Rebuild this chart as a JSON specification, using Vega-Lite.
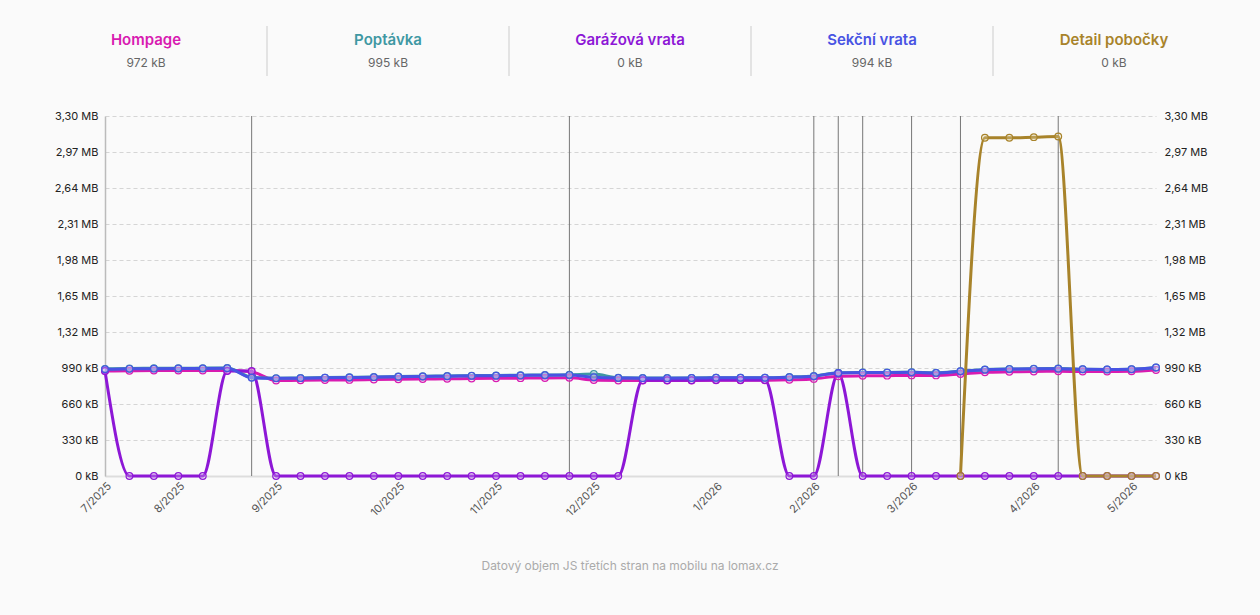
{
  "$schema": "https://vega.github.io/schema/vega-lite/v6.json",
  "background": "#fafafa",
  "padding": {"left": 24, "right": 52, "top": 25, "bottom": 45},
  "config": {"view": {"stroke": null}, "font": "Inter"},
  "title": {"text": "Datový objem JS třetích stran na mobilu na lomax.cz", "orient": "bottom", "anchor": "middle", "color": "#aaaaaa", "fontSize": 12, "fontWeight": "normal", "offset": 43, "dx": 14},
  "spacing": 33,
  "datasets": {
    "header": [
      {"series": "Hompage", "last": "972 kB"},
      {"series": "Poptávka", "last": "995 kB"},
      {"series": "Garážová vrata", "last": "0 kB"},
      {"series": "Sekční vrata", "last": "994 kB"},
      {"series": "Detail pobočky", "last": "0 kB"}
    ],
    "notes": [
      {"date": "2025-08-25"}, {"date": "2025-11-24"}, {"date": "2026-02-02"}, {"date": "2026-02-09"},
      {"date": "2026-02-16"}, {"date": "2026-03-02"}, {"date": "2026-03-16"}, {"date": "2026-04-13"}
    ],
    "main": [
      {"date": "2025-07-14", "series": "Hompage", "kB": 962},
      {"date": "2025-07-21", "series": "Hompage", "kB": 965},
      {"date": "2025-07-28", "series": "Hompage", "kB": 966},
      {"date": "2025-08-04", "series": "Hompage", "kB": 966},
      {"date": "2025-08-11", "series": "Hompage", "kB": 966},
      {"date": "2025-08-18", "series": "Hompage", "kB": 966},
      {"date": "2025-08-25", "series": "Hompage", "kB": 955},
      {"date": "2025-09-01", "series": "Hompage", "kB": 875},
      {"date": "2025-09-08", "series": "Hompage", "kB": 877},
      {"date": "2025-09-15", "series": "Hompage", "kB": 879},
      {"date": "2025-09-22", "series": "Hompage", "kB": 881},
      {"date": "2025-09-29", "series": "Hompage", "kB": 884},
      {"date": "2025-10-06", "series": "Hompage", "kB": 887},
      {"date": "2025-10-13", "series": "Hompage", "kB": 889},
      {"date": "2025-10-20", "series": "Hompage", "kB": 891},
      {"date": "2025-10-27", "series": "Hompage", "kB": 893},
      {"date": "2025-11-03", "series": "Hompage", "kB": 895},
      {"date": "2025-11-10", "series": "Hompage", "kB": 897},
      {"date": "2025-11-17", "series": "Hompage", "kB": 899},
      {"date": "2025-11-24", "series": "Hompage", "kB": 900},
      {"date": "2025-12-01", "series": "Hompage", "kB": 880},
      {"date": "2025-12-08", "series": "Hompage", "kB": 876},
      {"date": "2025-12-15", "series": "Hompage", "kB": 875},
      {"date": "2025-12-22", "series": "Hompage", "kB": 875},
      {"date": "2025-12-29", "series": "Hompage", "kB": 876},
      {"date": "2026-01-05", "series": "Hompage", "kB": 877},
      {"date": "2026-01-12", "series": "Hompage", "kB": 877},
      {"date": "2026-01-19", "series": "Hompage", "kB": 878},
      {"date": "2026-01-26", "series": "Hompage", "kB": 882},
      {"date": "2026-02-02", "series": "Hompage", "kB": 890},
      {"date": "2026-02-09", "series": "Hompage", "kB": 915},
      {"date": "2026-02-16", "series": "Hompage", "kB": 918},
      {"date": "2026-02-23", "series": "Hompage", "kB": 920},
      {"date": "2026-03-02", "series": "Hompage", "kB": 922},
      {"date": "2026-03-09", "series": "Hompage", "kB": 922},
      {"date": "2026-03-16", "series": "Hompage", "kB": 935},
      {"date": "2026-03-23", "series": "Hompage", "kB": 950},
      {"date": "2026-03-30", "series": "Hompage", "kB": 955},
      {"date": "2026-04-06", "series": "Hompage", "kB": 958},
      {"date": "2026-04-13", "series": "Hompage", "kB": 960},
      {"date": "2026-04-20", "series": "Hompage", "kB": 958},
      {"date": "2026-04-27", "series": "Hompage", "kB": 958},
      {"date": "2026-05-04", "series": "Hompage", "kB": 960},
      {"date": "2026-05-11", "series": "Hompage", "kB": 972},

      {"date": "2025-07-14", "series": "Poptávka", "kB": 982},
      {"date": "2025-07-21", "series": "Poptávka", "kB": 986},
      {"date": "2025-07-28", "series": "Poptávka", "kB": 988},
      {"date": "2025-08-04", "series": "Poptávka", "kB": 988},
      {"date": "2025-08-11", "series": "Poptávka", "kB": 989},
      {"date": "2025-08-18", "series": "Poptávka", "kB": 990},
      {"date": "2025-08-25", "series": "Poptávka", "kB": 905},
      {"date": "2025-09-01", "series": "Poptávka", "kB": 897},
      {"date": "2025-09-08", "series": "Poptávka", "kB": 899},
      {"date": "2025-09-15", "series": "Poptávka", "kB": 902},
      {"date": "2025-09-22", "series": "Poptávka", "kB": 905},
      {"date": "2025-09-29", "series": "Poptávka", "kB": 908},
      {"date": "2025-10-06", "series": "Poptávka", "kB": 912},
      {"date": "2025-10-13", "series": "Poptávka", "kB": 914},
      {"date": "2025-10-20", "series": "Poptávka", "kB": 917},
      {"date": "2025-10-27", "series": "Poptávka", "kB": 920},
      {"date": "2025-11-03", "series": "Poptávka", "kB": 922},
      {"date": "2025-11-10", "series": "Poptávka", "kB": 924},
      {"date": "2025-11-17", "series": "Poptávka", "kB": 926},
      {"date": "2025-11-24", "series": "Poptávka", "kB": 928},
      {"date": "2025-12-01", "series": "Poptávka", "kB": 935},
      {"date": "2025-12-08", "series": "Poptávka", "kB": 900},
      {"date": "2025-12-15", "series": "Poptávka", "kB": 898},
      {"date": "2025-12-22", "series": "Poptávka", "kB": 898},
      {"date": "2025-12-29", "series": "Poptávka", "kB": 899},
      {"date": "2026-01-05", "series": "Poptávka", "kB": 901},
      {"date": "2026-01-12", "series": "Poptávka", "kB": 901},
      {"date": "2026-01-19", "series": "Poptávka", "kB": 901},
      {"date": "2026-01-26", "series": "Poptávka", "kB": 907},
      {"date": "2026-02-02", "series": "Poptávka", "kB": 917},
      {"date": "2026-02-09", "series": "Poptávka", "kB": 946},
      {"date": "2026-02-16", "series": "Poptávka", "kB": 949},
      {"date": "2026-02-23", "series": "Poptávka", "kB": 949},
      {"date": "2026-03-02", "series": "Poptávka", "kB": 951},
      {"date": "2026-03-09", "series": "Poptávka", "kB": 947},
      {"date": "2026-03-16", "series": "Poptávka", "kB": 961},
      {"date": "2026-03-23", "series": "Poptávka", "kB": 976},
      {"date": "2026-03-30", "series": "Poptávka", "kB": 981},
      {"date": "2026-04-06", "series": "Poptávka", "kB": 983},
      {"date": "2026-04-13", "series": "Poptávka", "kB": 985},
      {"date": "2026-04-20", "series": "Poptávka", "kB": 979},
      {"date": "2026-04-27", "series": "Poptávka", "kB": 977},
      {"date": "2026-05-04", "series": "Poptávka", "kB": 979},
      {"date": "2026-05-11", "series": "Poptávka", "kB": 995},

      {"date": "2025-07-14", "series": "Garážová vrata", "kB": 962},
      {"date": "2025-07-21", "series": "Garážová vrata", "kB": 0},
      {"date": "2025-07-28", "series": "Garážová vrata", "kB": 0},
      {"date": "2025-08-04", "series": "Garážová vrata", "kB": 0},
      {"date": "2025-08-11", "series": "Garážová vrata", "kB": 0},
      {"date": "2025-08-18", "series": "Garážová vrata", "kB": 962},
      {"date": "2025-08-25", "series": "Garážová vrata", "kB": 962},
      {"date": "2025-09-01", "series": "Garážová vrata", "kB": 0},
      {"date": "2025-09-08", "series": "Garážová vrata", "kB": 0},
      {"date": "2025-09-15", "series": "Garážová vrata", "kB": 0},
      {"date": "2025-09-22", "series": "Garážová vrata", "kB": 0},
      {"date": "2025-09-29", "series": "Garážová vrata", "kB": 0},
      {"date": "2025-10-06", "series": "Garážová vrata", "kB": 0},
      {"date": "2025-10-13", "series": "Garážová vrata", "kB": 0},
      {"date": "2025-10-20", "series": "Garážová vrata", "kB": 0},
      {"date": "2025-10-27", "series": "Garážová vrata", "kB": 0},
      {"date": "2025-11-03", "series": "Garážová vrata", "kB": 0},
      {"date": "2025-11-10", "series": "Garážová vrata", "kB": 0},
      {"date": "2025-11-17", "series": "Garážová vrata", "kB": 0},
      {"date": "2025-11-24", "series": "Garážová vrata", "kB": 0},
      {"date": "2025-12-01", "series": "Garážová vrata", "kB": 0},
      {"date": "2025-12-08", "series": "Garážová vrata", "kB": 0},
      {"date": "2025-12-15", "series": "Garážová vrata", "kB": 878},
      {"date": "2025-12-22", "series": "Garážová vrata", "kB": 878},
      {"date": "2025-12-29", "series": "Garážová vrata", "kB": 878},
      {"date": "2026-01-05", "series": "Garážová vrata", "kB": 879},
      {"date": "2026-01-12", "series": "Garážová vrata", "kB": 880},
      {"date": "2026-01-19", "series": "Garážová vrata", "kB": 880},
      {"date": "2026-01-26", "series": "Garážová vrata", "kB": 0},
      {"date": "2026-02-02", "series": "Garážová vrata", "kB": 0},
      {"date": "2026-02-09", "series": "Garážová vrata", "kB": 940},
      {"date": "2026-02-16", "series": "Garážová vrata", "kB": 0},
      {"date": "2026-02-23", "series": "Garážová vrata", "kB": 0},
      {"date": "2026-03-02", "series": "Garážová vrata", "kB": 0},
      {"date": "2026-03-09", "series": "Garážová vrata", "kB": 0},
      {"date": "2026-03-16", "series": "Garážová vrata", "kB": 0},
      {"date": "2026-03-23", "series": "Garážová vrata", "kB": 0},
      {"date": "2026-03-30", "series": "Garážová vrata", "kB": 0},
      {"date": "2026-04-06", "series": "Garážová vrata", "kB": 0},
      {"date": "2026-04-13", "series": "Garážová vrata", "kB": 0},
      {"date": "2026-04-20", "series": "Garážová vrata", "kB": 0},
      {"date": "2026-04-27", "series": "Garážová vrata", "kB": 0},
      {"date": "2026-05-04", "series": "Garážová vrata", "kB": 0},
      {"date": "2026-05-11", "series": "Garážová vrata", "kB": 0},

      {"date": "2025-07-14", "series": "Sekční vrata", "kB": 978},
      {"date": "2025-07-21", "series": "Sekční vrata", "kB": 982},
      {"date": "2025-07-28", "series": "Sekční vrata", "kB": 984},
      {"date": "2025-08-04", "series": "Sekční vrata", "kB": 985},
      {"date": "2025-08-11", "series": "Sekční vrata", "kB": 986},
      {"date": "2025-08-18", "series": "Sekční vrata", "kB": 988},
      {"date": "2025-08-25", "series": "Sekční vrata", "kB": 900},
      {"date": "2025-09-01", "series": "Sekční vrata", "kB": 895},
      {"date": "2025-09-08", "series": "Sekční vrata", "kB": 897},
      {"date": "2025-09-15", "series": "Sekční vrata", "kB": 900},
      {"date": "2025-09-22", "series": "Sekční vrata", "kB": 903},
      {"date": "2025-09-29", "series": "Sekční vrata", "kB": 906},
      {"date": "2025-10-06", "series": "Sekční vrata", "kB": 910},
      {"date": "2025-10-13", "series": "Sekční vrata", "kB": 912},
      {"date": "2025-10-20", "series": "Sekční vrata", "kB": 915},
      {"date": "2025-10-27", "series": "Sekční vrata", "kB": 918},
      {"date": "2025-11-03", "series": "Sekční vrata", "kB": 920},
      {"date": "2025-11-10", "series": "Sekční vrata", "kB": 922},
      {"date": "2025-11-17", "series": "Sekční vrata", "kB": 924},
      {"date": "2025-11-24", "series": "Sekční vrata", "kB": 925},
      {"date": "2025-12-01", "series": "Sekční vrata", "kB": 905},
      {"date": "2025-12-08", "series": "Sekční vrata", "kB": 898},
      {"date": "2025-12-15", "series": "Sekční vrata", "kB": 897},
      {"date": "2025-12-22", "series": "Sekční vrata", "kB": 897},
      {"date": "2025-12-29", "series": "Sekční vrata", "kB": 898},
      {"date": "2026-01-05", "series": "Sekční vrata", "kB": 900},
      {"date": "2026-01-12", "series": "Sekční vrata", "kB": 900},
      {"date": "2026-01-19", "series": "Sekční vrata", "kB": 900},
      {"date": "2026-01-26", "series": "Sekční vrata", "kB": 905},
      {"date": "2026-02-02", "series": "Sekční vrata", "kB": 915},
      {"date": "2026-02-09", "series": "Sekční vrata", "kB": 945},
      {"date": "2026-02-16", "series": "Sekční vrata", "kB": 948},
      {"date": "2026-02-23", "series": "Sekční vrata", "kB": 948},
      {"date": "2026-03-02", "series": "Sekční vrata", "kB": 950},
      {"date": "2026-03-09", "series": "Sekční vrata", "kB": 945},
      {"date": "2026-03-16", "series": "Sekční vrata", "kB": 960},
      {"date": "2026-03-23", "series": "Sekční vrata", "kB": 975},
      {"date": "2026-03-30", "series": "Sekční vrata", "kB": 980},
      {"date": "2026-04-06", "series": "Sekční vrata", "kB": 982},
      {"date": "2026-04-13", "series": "Sekční vrata", "kB": 984},
      {"date": "2026-04-20", "series": "Sekční vrata", "kB": 978},
      {"date": "2026-04-27", "series": "Sekční vrata", "kB": 976},
      {"date": "2026-05-04", "series": "Sekční vrata", "kB": 978},
      {"date": "2026-05-11", "series": "Sekční vrata", "kB": 994},

      {"date": "2026-03-16", "series": "Detail pobočky", "kB": 0},
      {"date": "2026-03-23", "series": "Detail pobočky", "kB": 3100},
      {"date": "2026-03-30", "series": "Detail pobočky", "kB": 3100},
      {"date": "2026-04-06", "series": "Detail pobočky", "kB": 3106},
      {"date": "2026-04-13", "series": "Detail pobočky", "kB": 3112},
      {"date": "2026-04-20", "series": "Detail pobočky", "kB": 0},
      {"date": "2026-04-27", "series": "Detail pobočky", "kB": 0},
      {"date": "2026-05-04", "series": "Detail pobočky", "kB": 0},
      {"date": "2026-05-11", "series": "Detail pobočky", "kB": 0}
    ]
  },
  "vconcat": [
    {
      "width": 1051,
      "height": 50,
      "data": {"name": "header"},
      "layer": [
        {
          "transform": [{"filter": "datum.series != 'Hompage'"}],
          "mark": {"type": "rule", "color": "#cccccc", "strokeWidth": 1},
          "encoding": {
            "x": {"field": "series", "type": "nominal", "bandPosition": 0, "sort": null,
                  "scale": {"type": "band", "domain": ["Hompage", "Poptávka", "Garážová vrata", "Sekční vrata", "Detail pobočky"], "range": [-80, 1130], "paddingInner": 0, "paddingOuter": 0},
                  "axis": null}
          }
        },
        {
          "mark": {"type": "text", "dy": -11, "fontSize": 15, "fontWeight": 600},
          "encoding": {
            "x": {"field": "series", "type": "nominal", "sort": null,
                  "scale": {"type": "band", "domain": ["Hompage", "Poptávka", "Garážová vrata", "Sekční vrata", "Detail pobočky"], "range": [-80, 1130], "paddingInner": 0, "paddingOuter": 0},
                  "axis": null},
            "text": {"field": "series"},
            "color": {"field": "series", "type": "nominal", "legend": null,
                      "scale": {"domain": ["Hompage", "Poptávka", "Garážová vrata", "Sekční vrata", "Detail pobočky"], "range": ["#d81bb1", "#3f98a3", "#8d17d6", "#4853e3", "#a8832a"]}}
          }
        },
        {
          "mark": {"type": "text", "dy": 12, "fontSize": 12, "color": "#666666"},
          "encoding": {
            "x": {"field": "series", "type": "nominal", "sort": null,
                  "scale": {"type": "band", "domain": ["Hompage", "Poptávka", "Garážová vrata", "Sekční vrata", "Detail pobočky"], "range": [-80, 1130], "paddingInner": 0, "paddingOuter": 0},
                  "axis": null},
            "text": {"field": "last"}
          }
        }
      ]
    },
    {
      "width": 1051,
      "height": 360,
      "layer": [
        {
          "data": {"name": "notes"},
          "mark": {"type": "rule", "color": "#777777", "strokeWidth": 1},
          "encoding": {
            "x": {"field": "date", "type": "temporal", "scale": {"type": "utc"}}
          }
        },
        {
          "data": {"name": "main"},
          "mark": {"type": "line", "interpolate": "monotone", "strokeWidth": 3},
          "encoding": {
            "x": {"field": "date", "type": "temporal", "scale": {"type": "utc"}, "title": null,
                  "axis": {
                    "values": [
                      {"year": 2025, "month": 7, "date": 14, "utc": true},
                      {"year": 2025, "month": 8, "date": 4, "utc": true},
                      {"year": 2025, "month": 9, "date": 1, "utc": true},
                      {"year": 2025, "month": 10, "date": 6, "utc": true},
                      {"year": 2025, "month": 11, "date": 3, "utc": true},
                      {"year": 2025, "month": 12, "date": 1, "utc": true},
                      {"year": 2026, "month": 1, "date": 5, "utc": true},
                      {"year": 2026, "month": 2, "date": 2, "utc": true},
                      {"year": 2026, "month": 3, "date": 2, "utc": true},
                      {"year": 2026, "month": 4, "date": 6, "utc": true},
                      {"year": 2026, "month": 5, "date": 4, "utc": true}
                    ],
                    "labelExpr": "utcFormat(datum.value, '%-m/%Y')",
                    "labelAngle": -45, "labelColor": "#555555", "labelFontSize": 11,
                    "ticks": false, "grid": false, "domainColor": "#dddddd", "domainWidth": 2, "labelPadding": 4
                  }},
            "y": {"field": "kB", "type": "quantitative",
                  "scale": {"domain": [0, 3300], "nice": false},
                  "axis": {
                    "orient": "left",
                    "title": " ", "titleFontSize": 10, "titlePadding": 20,
                    "values": [0, 330, 660, 990, 1320, 1650, 1980, 2310, 2640, 2970, 3300],
                    "labelExpr": "datum.value >= 1000 ? replace(format(datum.value / 1000, '.2f'), '.', ',') + ' MB' : datum.value + ' kB'",
                    "grid": true, "gridDash": [4, 3], "gridColor": "#d5d5d5",
                    "ticks": false, "domain": true, "domainColor": "#bbbbbb", "domainWidth": 1.5,
                    "labelColor": "#222222", "labelFontSize": 11, "labelPadding": 7
                  }},
            "color": {"field": "series", "type": "nominal", "legend": null, "sort": null,
                      "scale": {"domain": ["Hompage", "Poptávka", "Garážová vrata", "Sekční vrata", "Detail pobočky"], "range": ["#d81bb1", "#3f98a3", "#8d17d6", "#4853e3", "#a8832a"]}}
          }
        },
        {
          "data": {"name": "main"},
          "mark": {"type": "point", "filled": false, "size": 45, "strokeWidth": 1.2, "fillOpacity": 0.3},
          "encoding": {
            "x": {"field": "date", "type": "temporal", "scale": {"type": "utc"}},
            "y": {"field": "kB", "type": "quantitative", "title": null,
                  "axis": {
                    "orient": "right",
                    "values": [0, 330, 660, 990, 1320, 1650, 1980, 2310, 2640, 2970, 3300],
                    "labelExpr": "datum.value >= 1000 ? replace(format(datum.value / 1000, '.2f'), '.', ',') + ' MB' : datum.value + ' kB'",
                    "grid": false, "ticks": false, "domain": false,
                    "labelColor": "#222222", "labelFontSize": 11, "labelPadding": 8
                  }},
            "color": {"field": "series", "type": "nominal", "legend": null, "sort": null,
                      "scale": {"domain": ["Hompage", "Poptávka", "Garážová vrata", "Sekční vrata", "Detail pobočky"], "range": ["#d81bb1", "#3f98a3", "#8d17d6", "#4853e3", "#a8832a"]}},
            "fill": {"field": "series", "type": "nominal", "legend": null, "sort": null,
                     "scale": {"domain": ["Hompage", "Poptávka", "Garážová vrata", "Sekční vrata", "Detail pobočky"], "range": ["#eeb8e3", "#bfdde1", "#d6b8f2", "#c0c4f5", "#e6d9b0"]}}
          }
        }
      ],
      "resolve": {"axis": {"y": "independent"}, "scale": {"y": "shared"}}
    }
  ]
}
